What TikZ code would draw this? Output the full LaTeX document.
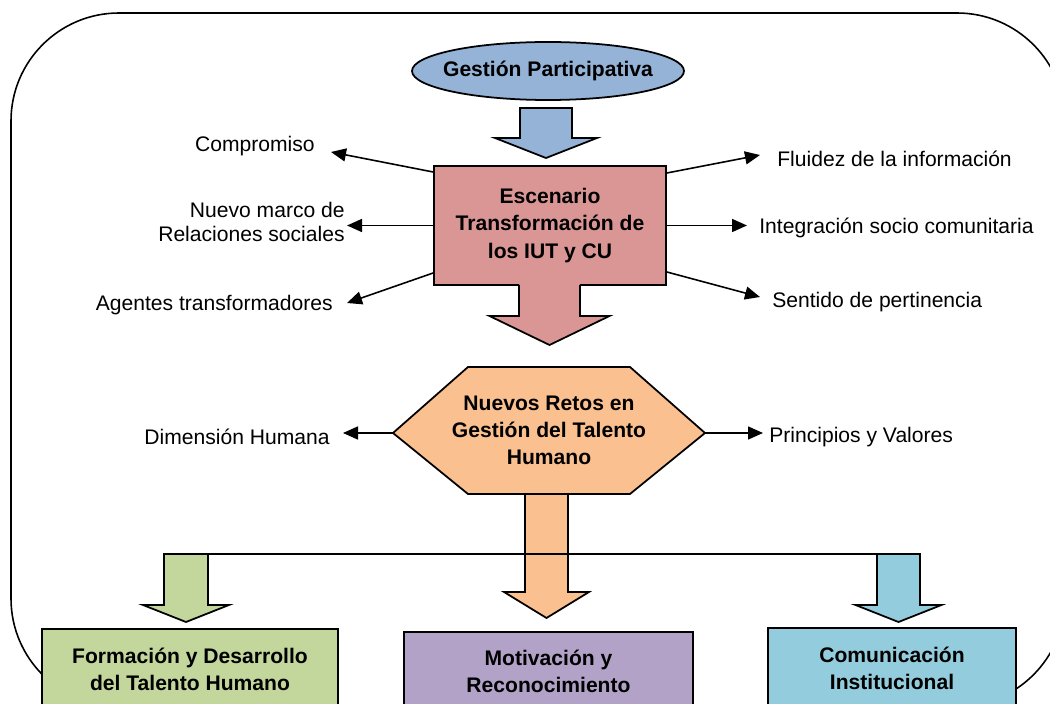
\documentclass[tikz,border=0pt]{standalone}
\usepackage{fontspec}
\setmainfont{Liberation Sans}
\usepackage{tikz}
\usetikzlibrary{arrows,arrows.meta,calc,shapes}
\definecolor{gpblue}{HTML}{95B3D7}
\definecolor{escred}{HTML}{D99694}
\definecolor{retosorange}{HTML}{FAC090}
\definecolor{formgreen}{HTML}{C3D69B}
\definecolor{motpurple}{HTML}{B3A2C7}
\definecolor{comblue}{HTML}{93CDDD}
\tikzset{
	lbl/.style = {inner sep=0pt, font=\fontsize{12}{13.5}\selectfont},
	bbox/.style = {draw, line width=1pt, align=center, font=\bfseries\fontsize{12}{15.5}\selectfont},
	sarr/.style = {line width=.9pt, -{Triangle[length=.3cm,width=.26cm]}},
	barr/.style = {draw, line width=1pt},
}

\begin{document}
\begin{tikzpicture}
	\useasboundingbox (0,0) rectangle (21,14.08);
	\clip (0,0) rectangle (21,14.08);
	\draw[line width=.9pt, rounded corners=2.16cm] (.22,-.05) rectangle (21.3,13.82);

	\filldraw[barr, fill=gpblue] (10.96,12.66) ellipse (2.72cm and .58cm);
	\node[font=\bfseries\fontsize{12}{15}\selectfont] (gp) at (10.96,12.66) {Gestión Participativa};
	\filldraw[barr, fill=gpblue] (10.4,11.92) -- (11.44,11.92) -- (11.44,11.32) -- (11.94,11.32) -- (10.92,10.92) -- (9.9,11.32) -- (10.4,11.32) -- cycle;

	\node[bbox, fill=escred, minimum width=4.64cm, minimum height=2.38cm] (esc) at (11,9.57) {Escenario\\Transformación de\\los IUT y CU};
	\fill[escred] (10.38,8.45) -- (11.6,8.45) -- (11.6,7.76) -- (12.19,7.76) -- (10.99,7.18) -- (9.79,7.76) -- (10.38,7.76) -- cycle;
	\draw[line width=1pt] (10.38,8.38) -- (10.38,7.76) -- (9.79,7.76) -- (10.99,7.18) -- (12.19,7.76) -- (11.6,7.76) -- (11.6,8.38);

	\node[lbl, anchor=east] (comp) at (6.3,11.16) {Compromiso};
	\node[lbl, anchor=east, align=right] (marco) at (6.9,9.64) {Nuevo marco de\\Relaciones sociales};
	\node[lbl, anchor=east] (agent) at (6.66,7.98) {Agentes transformadores};
	\node[lbl, anchor=west] (fluid) at (15.54,10.9) {Fluidez de la información};
	\node[lbl, anchor=west] (integ) at (15.18,9.52) {Integración socio comunitaria};
	\node[lbl, anchor=west] (sent) at (15.44,8.04) {Sentido de pertinencia};

	\draw[sarr] ([yshift=1.07cm]esc.west) -- ($(comp.east)+(.32,-.12)$);
	\draw[sarr] (esc.west) -- ($(esc.west -| marco.east)+(.04,0)$);
	\draw[sarr] ([yshift=-.95cm]esc.west) -- ($(agent.east)+(.28,.04)$);
	\draw[sarr] ([yshift=1.05cm]esc.east) -- ($(fluid.west)+(-.34,.08)$);
	\draw[sarr] (esc.east) -- ($(esc.east -| integ.west)+(-.24,0)$);
	\draw[sarr] ([yshift=-.93cm]esc.east) -- ($(sent.west)+(-.24,.1)$);

	\filldraw[barr, fill=retosorange] (7.86,5.42) coordinate (hl) -- (9.36,6.74) -- (12.6,6.74) -- (14.1,5.42) coordinate (hr) -- (12.6,4.2) -- (9.36,4.2) -- cycle;
	\node[font=\bfseries\fontsize{12}{15.5}\selectfont, align=center] (retos) at (10.98,5.47) {Nuevos Retos en\\Gestión del Talento\\Humano};
	\node[lbl, anchor=east] (dimh) at (6.6,5.34) {Dimensión Humana};
	\node[lbl, anchor=west] (princ) at (15.38,5.34) {Principios y Valores};
	\draw[sarr] (hl) -- ($(hl -| dimh.east)+(.26,0)$);
	\draw[sarr] (hr) -- ($(hr -| princ.west)+(-.12,0)$);

	\filldraw[barr, fill=retosorange] (10.5,4.2) -- (11.36,4.2) -- (11.36,2.24) -- (11.78,2.24) -- (10.93,1.72) -- (10.08,2.24) -- (10.5,2.24) -- cycle;
	\filldraw[barr, fill=formgreen] (3.28,3) -- (4.16,3) -- (4.16,1.98) -- (4.58,1.98) -- (3.72,1.64) -- (2.86,1.98) -- (3.28,1.98) -- cycle;
	\filldraw[barr, fill=comblue] (17.54,3) -- (18.4,3) -- (18.4,1.98) -- (18.83,1.98) -- (17.97,1.64) -- (17.11,1.98) -- (17.54,1.98) -- cycle;
	\draw[line width=1pt] (3.28,3) -- (18.4,3);

	\node[bbox, fill=formgreen, minimum width=5.92cm, minimum height=1.6cm] (form) at (3.8,.7) {Formación y Desarrollo\\del Talento Humano};
	\node[bbox, fill=motpurple, minimum width=5.78cm, minimum height=1.56cm] (motiv) at (10.97,.66) {Motivación y\\Reconocimiento};
	\node[bbox, fill=comblue, minimum width=4.96cm, minimum height=1.6cm] (comu) at (17.84,.72) {Comunicación\\Institucional};
\end{tikzpicture}
\end{document}
